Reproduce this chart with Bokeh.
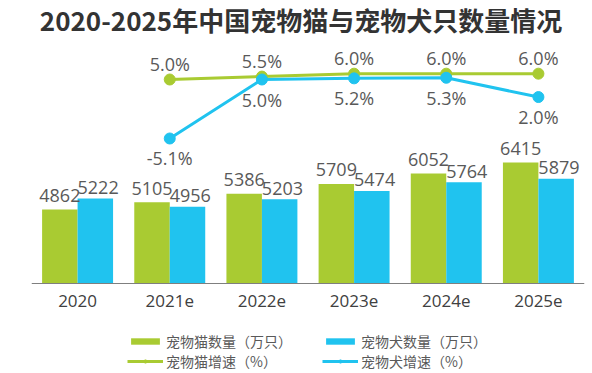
from bokeh.plotting import figure
from bokeh.models import ColumnDataSource, Range1d, Legend, LegendItem, Span, Label
from bokeh.transform import dodge
from bokeh.core.properties import value
from bokeh.embed import file_html
from bokeh.resources import INLINE

years = ["2020", "2021e", "2022e", "2023e", "2024e", "2025e"]
cats = [4862, 5105, 5386, 5709, 6052, 6415]
dogs = [5222, 4956, 5203, 5474, 5764, 5879]
rate_years = ["2021e", "2022e", "2023e", "2024e", "2025e"]
cat_rate = [5.0, 5.5, 6.0, 6.0, 6.0]
dog_rate = [-5.1, 5.0, 5.2, 5.3, 2.0]
title_text = "2020-2025年中国宠物猫与宠物犬只数量情况"

BASE = 2417          # origin of the bar value scale
Y_TOP = 11769        # bar scale at top of canvas
Y_BOT = -557
PX = 373 / (Y_TOP - Y_BOT)

GREEN = "#A9CB32"
BLUE = "#20C3EF"
LABEL = "#595959"
NUMFONT = value("Open Sans")
CJK = "Noto Sans CJK SC"

bars = ColumnDataSource(dict(
    year=years, cats=cats, dogs=dogs, base=[BASE] * len(years),
    cat_txt=[str(v) for v in cats], dog_txt=[str(v) for v in dogs],
))
rates = ColumnDataSource(dict(
    year=rate_years, cat=cat_rate, dog=dog_rate,
    cat_txt=["%.1f%%" % v for v in cat_rate], dog_txt=["%.1f%%" % v for v in dog_rate],
))

p = figure(x_range=years, y_range=Range1d(Y_BOT, Y_TOP),
           width=592, height=373, output_backend="svg", toolbar_location=None,
           min_border_left=31, min_border_right=8, min_border_top=0, min_border_bottom=0)
p.extra_y_ranges = {"rate": Range1d(-45.34, 18.53)}
p.x_range.range_padding = 0

p.outline_line_color = None
p.background_fill_color = "white"
p.border_fill_color = "white"
p.grid.visible = False
p.xaxis.visible = False
p.yaxis.visible = False

p.add_layout(Label(x=3.0, y=Y_TOP, text=title_text, x_offset=-7,
                   text_align="center", text_baseline="top", text_line_height=1.0,
                   text_font=CJK, text_font_size="26px", text_font_style="bold",
                   text_color="#333333"))

p.add_layout(Span(location=BASE, dimension="width", line_color="#7f7f7f", line_width=1.2))

w = 0.385
r_cat = p.vbar(x=dodge("year", -w / 2, range=p.x_range), top="cats", bottom=BASE, width=w,
               source=bars, fill_color=GREEN, line_color=None)
r_dog = p.vbar(x=dodge("year", w / 2, range=p.x_range), top="dogs", bottom=BASE, width=w,
               source=bars, fill_color=BLUE, line_color=None)
p.text(x=dodge("year", -w / 2, range=p.x_range), y="cats", text="cat_txt", source=bars,
       text_align="center", text_baseline="middle", y_offset=-14,
       text_font=NUMFONT, text_font_size="18px", text_color=LABEL)
p.text(x=dodge("year", w / 2 + 0.03, range=p.x_range), y="dogs", text="dog_txt", source=bars,
       text_align="center", text_baseline="middle", y_offset=-11,
       text_font=NUMFONT, text_font_size="18px", text_color=LABEL)
# category labels
p.text(x="year", y="base", text="year", source=bars,
       text_align="center", text_baseline="middle", y_offset=17,
       text_font=NUMFONT, text_font_size="17px", text_color="#404040")

l_cat = p.line(x="year", y="cat", source=rates, y_range_name="rate", line_color=GREEN, line_width=3)
s_cat = p.scatter(x="year", y="cat", source=rates, y_range_name="rate", size=11,
                  fill_color=GREEN, line_color=GREEN)
l_dog = p.line(x="year", y="dog", source=rates, y_range_name="rate", line_color=BLUE, line_width=3)
s_dog = p.scatter(x="year", y="dog", source=rates, y_range_name="rate", size=11,
                  fill_color=BLUE, line_color=BLUE)
p.text(x="year", y="cat", text="cat_txt", source=rates, y_range_name="rate",
       text_align="center", text_baseline="middle", y_offset=-16,
       text_font=NUMFONT, text_font_size="18px", text_color=LABEL)
p.text(x="year", y="dog", text="dog_txt", source=rates, y_range_name="rate",
       text_align="center", text_baseline="middle", y_offset=20,
       text_font=NUMFONT, text_font_size="18px", text_color=LABEL)

legend = Legend(items=[
    LegendItem(label="宠物猫数量（万只）", renderers=[r_cat]),
    LegendItem(label="宠物猫增速（%）", renderers=[l_cat, s_cat]),
    LegendItem(label="宠物犬数量（万只）", renderers=[r_dog]),
    LegendItem(label="宠物犬增速（%）", renderers=[l_dog, s_dog]),
], ncols=2, location=(96, 2), orientation="vertical")
legend.background_fill_alpha = 0
legend.border_line_color = None
legend.padding = 0
legend.margin = 0
legend.spacing = 0
legend.glyph_width = 36
legend.glyph_height = 8
legend.label_height = 14
legend.label_width = 156
legend.label_standoff = 3
legend.label_text_font = CJK
legend.label_text_font_size = "14px"
legend.label_text_line_height = 1.0
legend.label_text_color = LABEL
p.add_layout(legend, "center")

open("out.html", "w").write(file_html(p, INLINE))
